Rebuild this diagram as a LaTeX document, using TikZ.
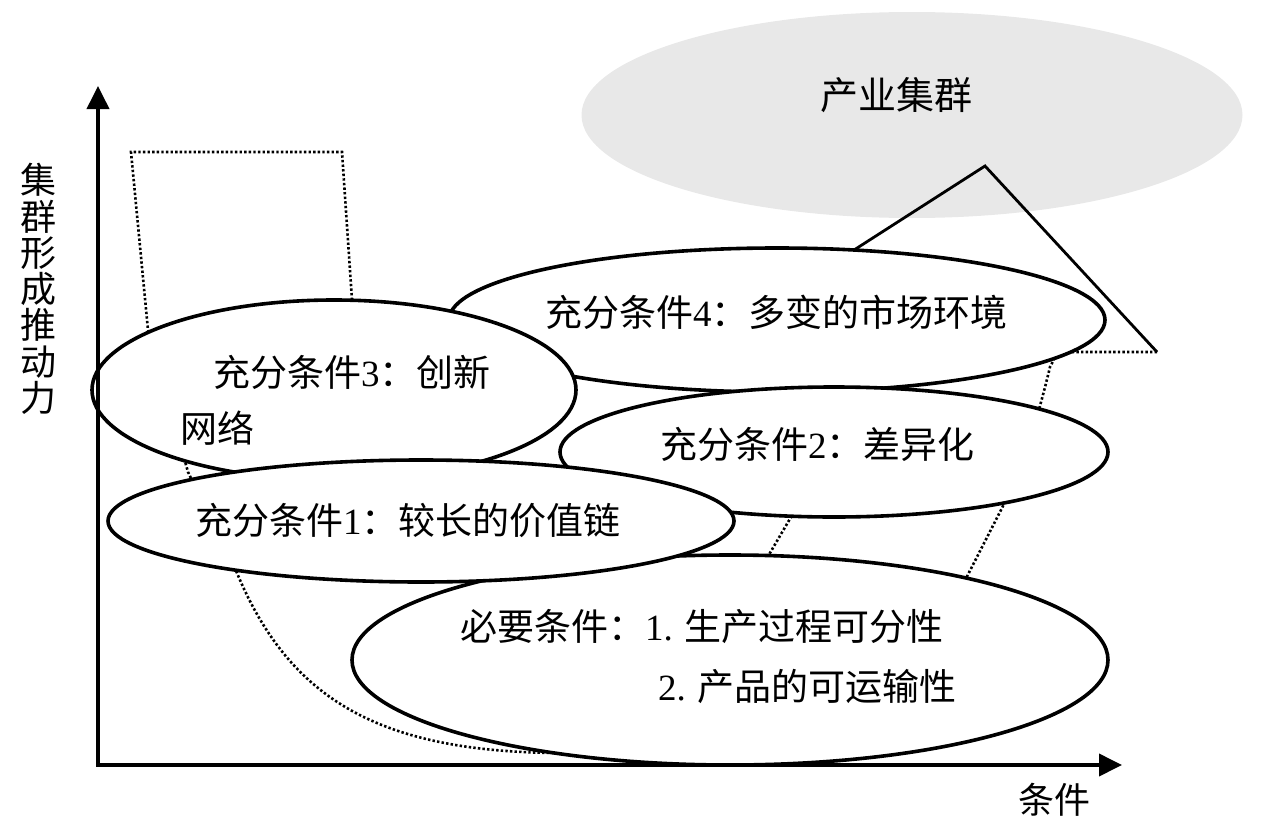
\documentclass[tikz,border=0pt]{standalone}
\usepackage{fontspec}
\setmainfont{Liberation Serif}
\newfontfamily\cjk{Noto Sans CJK SC}
\usetikzlibrary{shapes.geometric,arrows.meta}
\newcommand\dg[1]{{\rmfamily #1}}
\begin{document}
\begin{tikzpicture}[x=1pt,y=-1pt,
  ell/.style={ellipse, draw, line width=3.6pt, fill=white, inner sep=0pt},
  cloud/.style={ellipse, fill=black!9, inner sep=0pt},
  txt/.style={inner sep=0pt, font=\cjk\fontsize{37}{44}\selectfont},
  lbl/.style={inner sep=0pt, font=\cjk\fontsize{36}{36.3}\selectfont, align=center},
  dotl/.style={line width=2.6pt, dash pattern=on 2.4pt off 2.2pt},
  tri/.style={line width=2.8pt, line join=miter},
  axis/.style={line width=3.8pt, -{Triangle[length=23pt,width=22pt]}}]
\useasboundingbox (0,0) rectangle (1262,827);

% industry cluster cloud
\node[cloud, minimum width=661pt, minimum height=206pt] (gc) at (912,115) {};
\node[txt, font=\cjk\fontsize{38}{44}\selectfont] (tg) at (896,95) {产业集群};

% triangle
\coordinate (ta) at (985,166);
\coordinate (tl) at (695,352);
\coordinate (tr) at (1157,352);
\draw[tri] (tl) -- (ta) -- (tr);

% dotted outline
\coordinate (r1) at (342,152);
\coordinate (r2) at (131,152);
\coordinate (l1) at (148,330);
\coordinate (l2) at (188,472);
\coordinate (l3) at (237,573);
\coordinate (l4) at (560,753);
\draw[dotl] (352,300) -- (r1) -- (r2) -- (l1) -- (l2) -- (l3)
  .. controls (290,700) and (380,752) .. (l4) -- (640,755);
\coordinate (q1) at (1058,352);
\coordinate (q2) at (1050,367);
\coordinate (q3) at (1002,508);
\coordinate (q4) at (955,600);
\draw[dotl] (tr) -- (q1) -- (q2) .. controls (1035,430) and (1020,470) .. (q3) -- (q4);
\coordinate (m1) at (801,500);
\coordinate (m2) at (760,570);
\draw[dotl] (m1) -- (m2);

% ellipse 4
\node[ell, minimum width=656pt, minimum height=144pt] (e4) at (777,320) {};
\node[txt, anchor=west] (t4) at (545,312) {充分条件\dg{4}：多变的市场环境};

% ellipse 2
\node[ell, minimum width=548pt, minimum height=130pt] (e2) at (834,452) {};
\node[txt, anchor=west] (t2) at (660,444) {充分条件\dg{2}：差异化};

% necessary condition
\node[ell, minimum width=756pt, minimum height=210pt] (en) at (730,660) {};
\node[txt, anchor=west] (tn1) at (460,627) {必要条件：\dg{1.} 生产过程可分性};
\node[txt, anchor=west] (tn2) at (658,686) {\dg{2.} 产品的可运输性};

% ellipse 3
\node[ell, minimum width=484pt, minimum height=180pt] (e3) at (334,390) {};
\node[txt, anchor=west] (t3a) at (213,372) {充分条件\dg{3}：创新};
\node[txt, anchor=west] (t3b) at (180,428) {网络};

% ellipse 1
\node[ell, minimum width=626pt, minimum height=122pt] (e1) at (421,521) {};
\node[txt, anchor=west] (t1) at (195,520) {充分条件\dg{1}：较长的价值链};

% axes
\coordinate (o) at (98,765);
\coordinate (ytip) at (98,86);
\coordinate (xtip) at (1122,765);
\draw[axis] (98,766.9) -- (ytip);
\draw[axis] (96.1,765) -- (xtip);
\node[lbl] (ylab) at (38,289) {集\\群\\形\\成\\推\\动\\力};
\node[lbl] (xlab) at (1054,800) {条件};
\end{tikzpicture}
\end{document}
